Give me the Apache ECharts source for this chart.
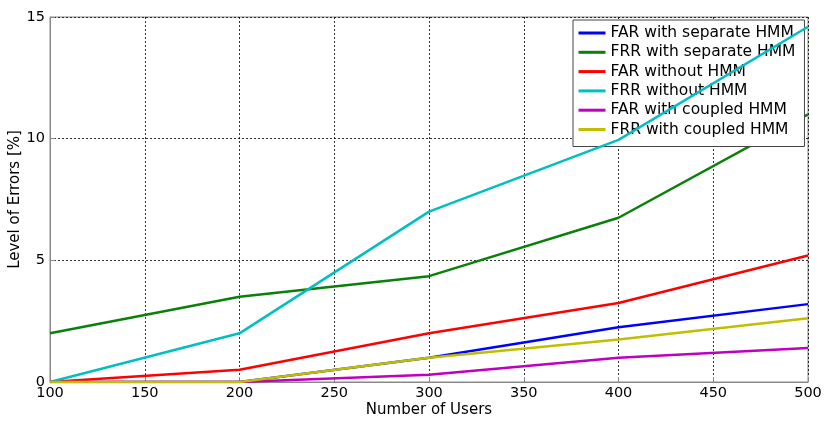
<!DOCTYPE html>
<html>
<head>
<meta charset="utf-8">
<script src="https://cdn.jsdelivr.net/npm/echarts@6/dist/echarts.min.js"></script>
<style>
  html, body { margin: 0; padding: 0; background: #fff; }
  #chart { width: 825px; height: 421px; }
</style>
</head>
<body>
<div id="chart"></div>
<script>
// Number of users on the x axis
const users = [100, 200, 300, 400, 500];

// Error levels in percent
const farSeparate = [0, 0, 1.0, 2.25, 3.2];
const frrSeparate = [2.0, 3.5, 4.35, 6.75, 11.0];
const farWithout = [0, 0.5, 2.0, 3.25, 5.2];
const frrWithout = [0, 2.0, 7.0, 9.95, 14.6];
const farCoupled = [0, 0, 0.3, 1.0, 1.4];
const frrCoupled = [0, 0, 1.0, 1.75, 2.62];

const seriesNames = [
  'FAR with separate HMM',
  'FRR with separate HMM',
  'FAR without HMM',
  'FRR without HMM',
  'FAR with coupled HMM',
  'FRR with coupled HMM'
];
const seriesValues = [farSeparate, frrSeparate, farWithout, frrWithout, farCoupled, frrCoupled];
const seriesColors = ['#0000ff', '#0a800a', '#ff0000', '#00bfbf', '#bf00bf', '#bfbf00'];

const font = '"DejaVu Sans", Arial, sans-serif';

const chart = echarts.init(document.getElementById('chart'));

chart.setOption({
  animation: false,
  grid: {
    left: 50, right: 17, top: 17, bottom: 39,
    outerBoundsMode: 'none', containLabel: false,
    show: true, borderColor: '#888', borderWidth: 1
  },
  xAxis: {
    type: 'value', min: 100, max: 500, interval: 50,
    name: 'Number of Users', nameLocation: 'middle', nameGap: 21,
    nameMoveOverlap: false,
    nameTextStyle: { fontFamily: font, fontSize: 15, color: '#000' },
    axisLine: { show: true, lineStyle: { color: '#888', width: 1 } },
    axisTick: { show: true, inside: true, length: 5, lineStyle: { color: '#888' } },
    axisLabel: { fontFamily: font, fontSize: 14.5, color: '#000', margin: 4 },
    splitLine: { show: true, lineStyle: { color: '#000', type: [2, 2], width: 1, opacity: 0.8 } }
  },
  yAxis: {
    type: 'value', min: 0, max: 15, interval: 5,
    name: 'Level of Errors [%]', nameLocation: 'middle', nameGap: 27, nameRotate: 90,
    nameMoveOverlap: false,
    nameTextStyle: { fontFamily: font, fontSize: 15, color: '#000' },
    axisLine: { show: true, lineStyle: { color: '#888', width: 1 } },
    axisTick: { show: true, inside: true, length: 5, lineStyle: { color: '#888' } },
    axisLabel: { fontFamily: font, fontSize: 14.5, color: '#000', margin: 5 },
    splitLine: { show: true, lineStyle: { color: '#000', type: [2, 2], width: 1, opacity: 0.8 } }
  },
  legend: {
    orient: 'vertical',
    left: 573, top: 20,
    padding: [5, 9, 9, 4],
    itemWidth: 27, itemHeight: 14, itemGap: 3.3,
    backgroundColor: '#fff',
    borderColor: '#444', borderWidth: 1,
    itemStyle: { opacity: 0 },
    lineStyle: { width: 3 },
    textStyle: { fontFamily: font, fontSize: 15.5, color: '#000' },
    data: seriesNames
  },
  series: seriesNames.map((name, i) => ({
    name: name,
    type: 'line',
    data: users.map((u, j) => [u, seriesValues[i][j]]),
    showSymbol: false,
    symbol: 'none',
    color: seriesColors[i],
    lineStyle: { color: seriesColors[i], width: 2.5 },
    z: 2 + i
  }))
});
</script>
</body>
</html>
